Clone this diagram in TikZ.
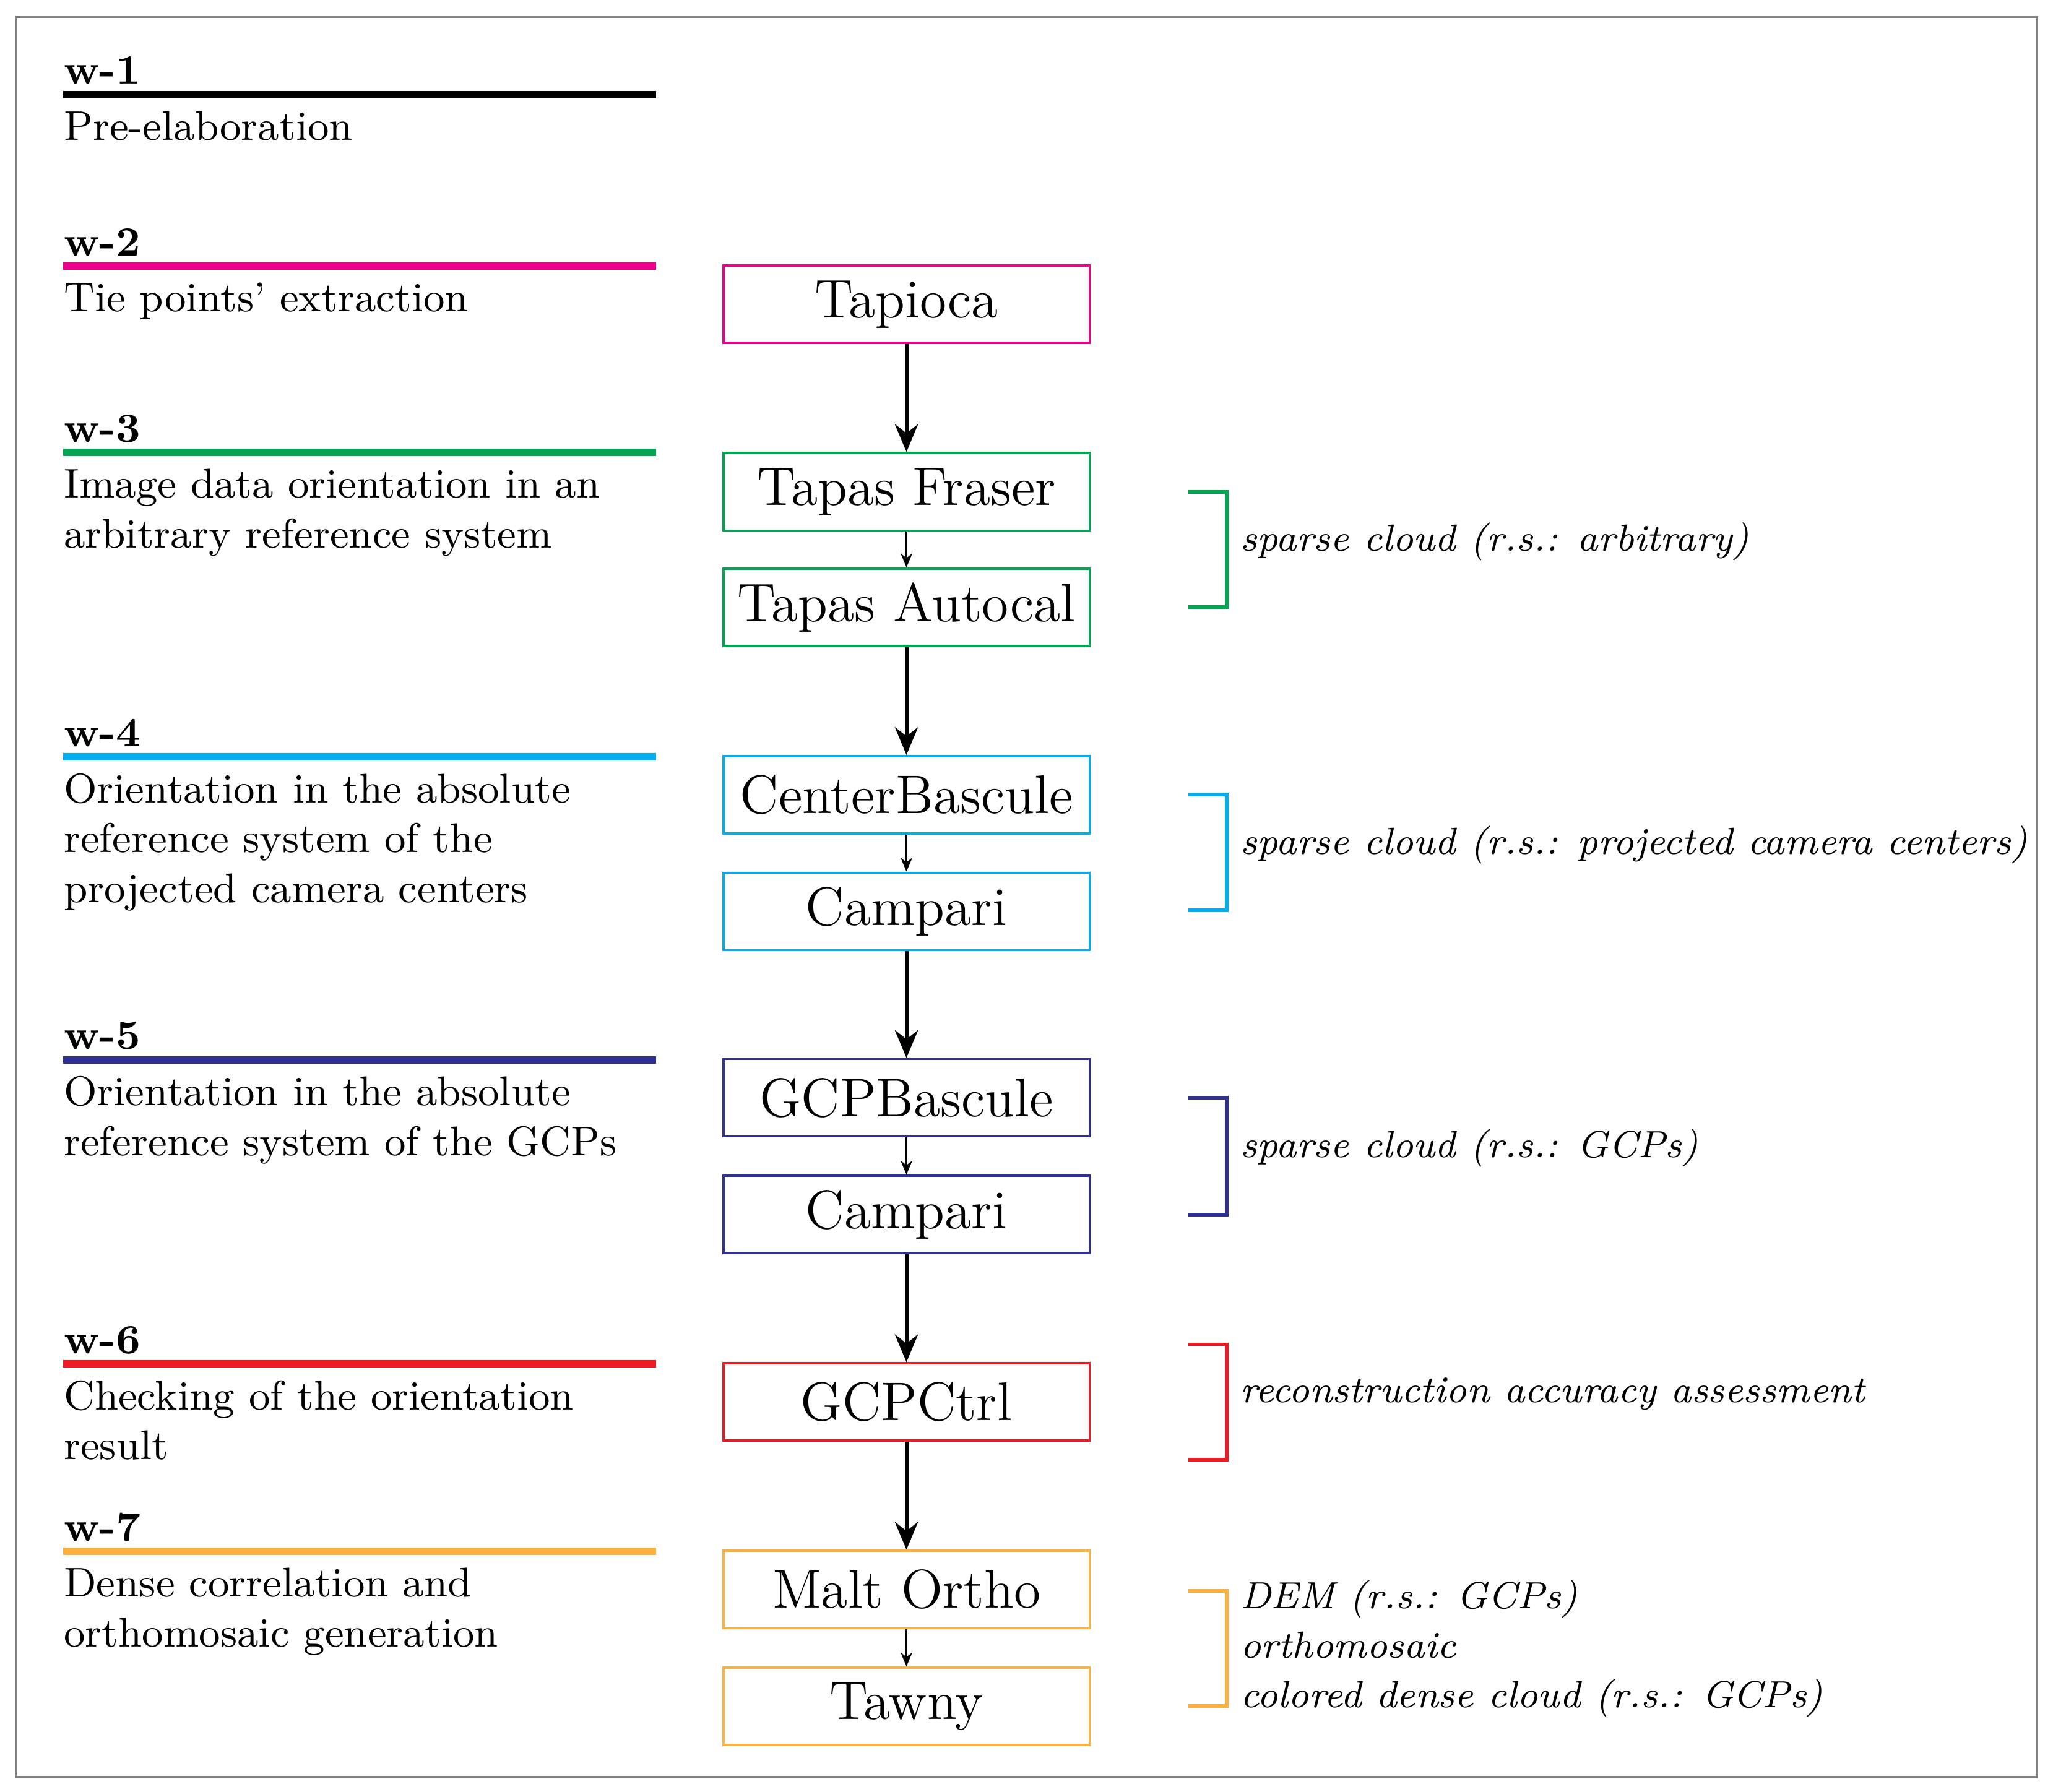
\documentclass[tikz,border=0pt]{standalone}
\usetikzlibrary{arrows.meta}
\definecolor{cp}{HTML}{EC008C}\definecolor{cg}{HTML}{00A651}\definecolor{cc}{HTML}{00AEEF}
\definecolor{cn}{HTML}{2E3192}\definecolor{cr}{HTML}{ED1C24}\definecolor{co}{HTML}{FBB040}
\begin{document}
\begin{tikzpicture}[x=0.01cm,y=-0.01cm,
 box/.style={draw=#1,line width=0.5pt,minimum width=2.79cm,minimum height=0.59cm,inner sep=0pt,font=\fontsize{11.8}{14}\selectfont},
 wl/.style={font=\bfseries\fontsize{9}{11}\selectfont,anchor=base west,inner sep=0pt},
 wt/.style={font=\fontsize{9}{10.8}\selectfont,anchor=north west,inner sep=0pt,align=left},
 bl/.style={font=\itshape\fontsize{8.2}{10.8}\selectfont,anchor=west,inner sep=0pt,align=left},
 big/.style={-{Stealth[length=6pt,width=5pt]},line width=0.8pt},
 sm/.style={-{Stealth[length=3pt,width=2.5pt]},line width=0.4pt},
 br/.style={line width=0.8pt}]
\useasboundingbox (0,0) rectangle (1565,1366);
\draw[gray,line width=0.5pt] (12,13) rectangle (1553,1355);
\foreach \n/\y/\c/\t in {1/72/black/{Pre-elaboration},2/203/cp/{Tie points' extraction},3/345/cg/{Image data orientation in an\\arbitrary reference system},4/577/cc/{Orientation in the absolute\\reference system of the\\projected camera centers},5/808/cn/{Orientation in the absolute\\reference system of the GCPs},6/1040/cr/{Checking of the orientation\\result},7/1183/co/{Dense correlation and\\orthomosaic generation}}{
 \node[wl] (w\n) at (48,\y-8) {w-\n};
 \coordinate (la\n) at (48,\y); \coordinate (lb\n) at (500,\y);
 \draw[\c,line width=1.6pt] (la\n) -- (lb\n);
 \node[wt] (t\n) at (48,\y+12) {\t};
}
\node[box=cp] (b1) at (691,232) {Tapioca};
\node[box=cg] (b2) at (691,375) {Tapas Fraser};
\node[box=cg] (b3) at (691,463) {Tapas Autocal};
\node[box=cc] (b4) at (691,606) {CenterBascule};
\node[box=cc] (b5) at (691,695) {Campari};
\node[box=cn] (b6) at (691,837) {GCPBascule};
\node[box=cn] (b7) at (691,926) {Campari};
\node[box=cr] (b8) at (691,1069) {GCPCtrl};
\node[box=co] (b9) at (691,1212) {Malt Ortho};
\node[box=co] (b10) at (691,1301) {Tawny};
\draw[big] (b1) -- (b2); \draw[sm] (b2) -- (b3); \draw[big] (b3) -- (b4);
\draw[sm] (b4) -- (b5); \draw[big] (b5) -- (b6); \draw[sm] (b6) -- (b7);
\draw[big] (b7) -- (b8); \draw[big] (b8) -- (b9); \draw[sm] (b9) -- (b10);
\foreach \i/\a/\b/\c/\t/\o in {1/375/463/cg/{sparse cloud (r.s.: arbitrary)}/6,2/606/694/cc/{sparse cloud (r.s.: projected camera centers)}/6,3/837/926/cn/{sparse cloud (r.s.: GCPs)}/6,4/1025/1113/cr/{reconstruction accuracy assessment}/6,5/1213/1301/co/{DEM (r.s.: GCPs)\\orthomosaic\\colored dense cloud (r.s.: GCPs)}/0}{
 \draw[\c,br] (906,\a) -- (935,\a) -- (935,\b) -- (906,\b);
 \node[bl] (r\i) at (945,{(\a+\b)/2-\o}) {\t};
}
\end{tikzpicture}
\end{document}
